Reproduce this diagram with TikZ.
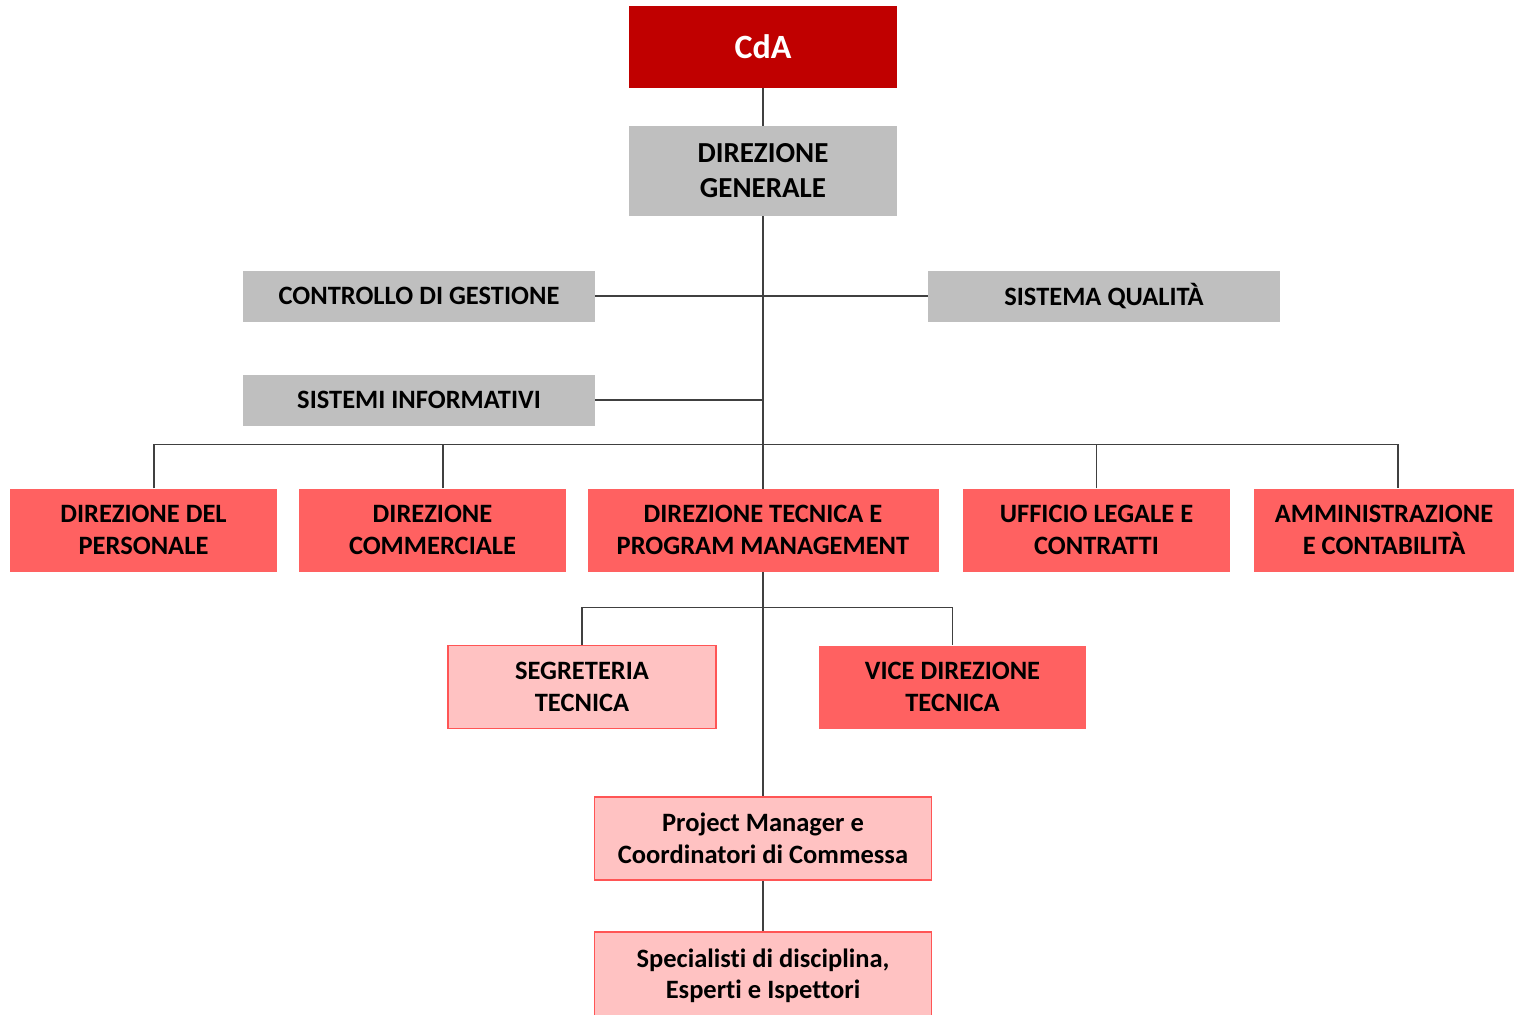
\documentclass[tikz,border=0pt]{standalone}
\usepackage{fontspec}
\setmainfont{Carlito}[Ligatures=NoCommon]
\usetikzlibrary{calc}
\pgfdeclarelayer{bg}\pgfsetlayers{bg,main}
\definecolor{cdared}{HTML}{C00000}
\definecolor{boxgray}{HTML}{BFBFBF}
\definecolor{boxred}{HTML}{FF6161}
\definecolor{boxpink}{HTML}{FFC2C2}
\definecolor{pinkline}{HTML}{FF5555}
\definecolor{conn}{HTML}{404040}
\begin{document}
\begin{tikzpicture}[x=1pt,y=-1pt,
 base/.style={rectangle, inner sep=0pt, align=center, font=\bfseries\fontsize{26.5}{31.5}\selectfont},
 graybox/.style={base, fill=boxgray},
 redbox/.style={base, fill=boxred},
 pinkbox/.style={base, fill=boxpink, draw=pinkline, line width=1.5pt},
 link/.style={draw=conn, line width=1.2pt}]
\useasboundingbox (0,0) rectangle (1514,1014);

\node[base, fill=cdared, text=white, minimum width=268pt, minimum height=82pt, font=\bfseries\fontsize{34}{40}\selectfont] (cda) at (763,47) {CdA};
\node[graybox, minimum width=268pt, minimum height=90pt, font=\bfseries\fontsize{29}{35}\selectfont] (dg) at (763,171) {DIREZIONE\\GENERALE};
\node[graybox, minimum width=352pt, minimum height=51pt] (cg) at (419,296) {CONTROLLO DI GESTIONE};
\node[graybox, minimum width=352pt, minimum height=51pt] (sq) at (1104,296) {SISTEMA QUALITÀ};
\node[graybox, minimum width=352pt, minimum height=51pt] (si) at (419,400) {SISTEMI INFORMATIVI};

\node[redbox, minimum width=267pt, minimum height=83pt] (dp) at (143.5,530) {DIREZIONE DEL\\PERSONALE};
\node[redbox, minimum width=267pt, minimum height=83pt] (dc) at (432.5,530) {DIREZIONE\\COMMERCIALE};
\node[redbox, minimum width=351pt, minimum height=83pt] (dt) at (763,530) {DIREZIONE TECNICA E\\PROGRAM MANAGEMENT};
\node[redbox, minimum width=267pt, minimum height=83pt] (ul) at (1096.5,530) {UFFICIO LEGALE E\\CONTRATTI};
\node[redbox, minimum width=260pt, minimum height=83pt] (ac) at (1384,530) {AMMINISTRAZIONE\\E CONTABILITÀ};

\node[pinkbox, minimum width=268pt, minimum height=83pt] (st) at (582,687) {SEGRETERIA\\TECNICA};
\node[redbox, minimum width=267pt, minimum height=83pt] (vd) at (952.5,687) {VICE DIREZIONE\\TECNICA};

\node[pinkbox, minimum width=337pt, minimum height=83pt] (pm) at (763,838.5) {Project Manager e\\Coordinatori di Commessa};
\node[pinkbox, minimum width=337pt, minimum height=88pt] (sp) at (763,976) {Specialisti di disciplina,\\Esperti e Ispettori};

\begin{pgfonlayer}{bg}
\fill[white] (0,0) rectangle (1514,1014);
\draw[link] (cda.south) -- (dg.north);
\draw[link] (dg.south) -- (pm.north);
\draw[link] (pm.south) -- (sp.north);
\draw[link] (cg.east) -- (sq.west);
\draw[link] (si.east) -- (si.east -| dg.south);
\draw[link] ([xshift=10.5pt]dp.north) -- ++(0,-44) -| ([xshift=14pt]ac.north);
\draw[link] ([xshift=10.5pt]dc.north) -- ++(0,-44);
\draw[link] (ul.north) -- ++(0,-44);
\draw[link] (st.north) -- ++(0,-37) -| (vd.north);
\end{pgfonlayer}
\end{tikzpicture}
\end{document}
